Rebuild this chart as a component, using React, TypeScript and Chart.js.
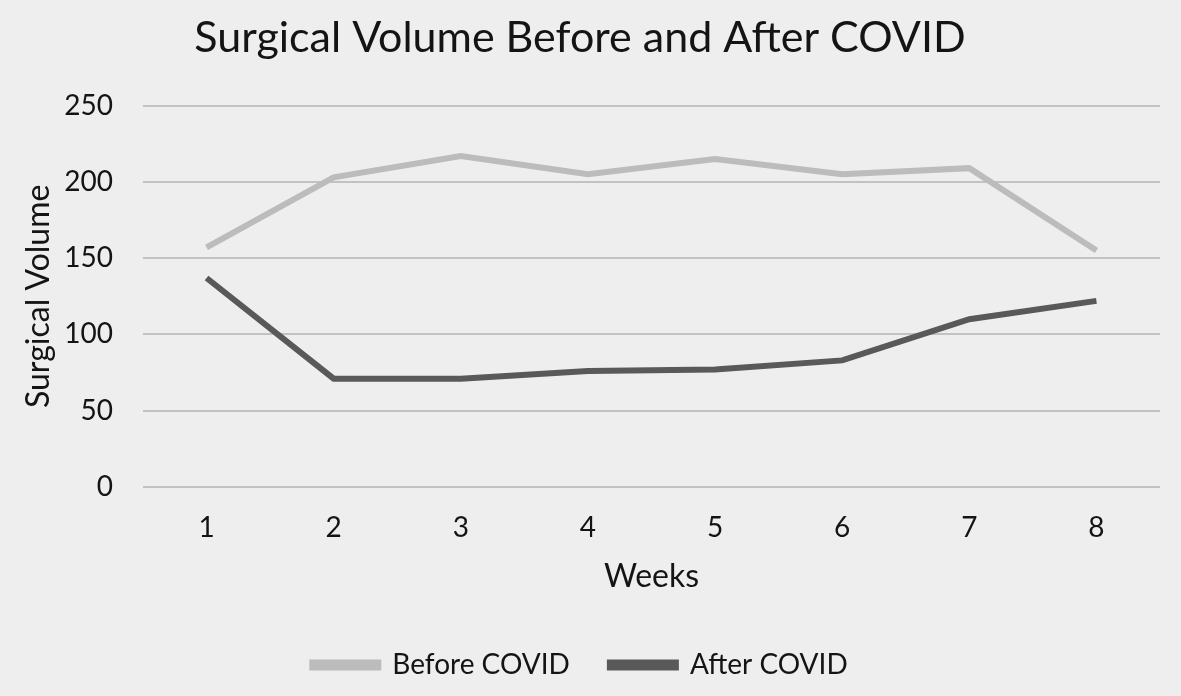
import React, { useEffect, useRef } from "react";
import { Chart, registerables } from "chart.js";

Chart.register(...registerables);

const weeks = ["1", "2", "3", "4", "5", "6", "7", "8"];
const beforeCovid = [157, 203, 217, 205, 215, 205, 209, 155];
const afterCovid = [137, 71, 71, 76, 77, 83, 110, 122];
const yTicks = [0, 50, 100, 150, 200, 250];

const FONT = "Lato, 'Open Sans', sans-serif";
const TEXT = "#141414";

export default function App() {
  const ref = useRef<HTMLCanvasElement | null>(null);

  useEffect(() => {
    document.body.style.margin = "0";
    document.body.style.background = "#eeeeee";
    const ctx = ref.current;
    if (!ctx) return;
    const chart = new Chart(ctx, {
      type: "line",
      data: {
        labels: weeks,
        datasets: [
          {
            label: "Before COVID",
            data: beforeCovid,
            borderColor: "#bcbcbc",
            backgroundColor: "#bcbcbc",
            borderWidth: 6,
            pointRadius: 0,
            tension: 0,
          },
          {
            label: "After COVID",
            data: afterCovid,
            borderColor: "#595959",
            backgroundColor: "#595959",
            borderWidth: 6,
            pointRadius: 0,
            tension: 0,
          },
        ],
      },
      options: {
        animation: false,
        responsive: false,
        layout: { padding: { left: 0, right: 21, top: 0, bottom: 7 } },
        plugins: {
          title: {
            display: true,
            text: "Surgical Volume Before and After COVID",
            color: TEXT,
            font: { family: FONT, size: 43, weight: "normal" },
            padding: { top: 12, bottom: 42 },
          },
          legend: {
            display: true,
            position: "bottom",
            labels: {
              color: TEXT,
              font: { family: FONT, size: 28 },
              boxWidth: 66,
              boxHeight: 5,
              padding: 40,
            },
          },
          tooltip: { enabled: false },
        },
        scales: {
          x: {
            offset: true,
            grid: { display: false, drawTicks: false },
            border: { display: false },
            ticks: { color: TEXT, font: { family: FONT, size: 28 }, padding: 24 },
            title: {
              display: true,
              text: "Weeks",
              color: TEXT,
              font: { family: FONT, size: 32 },
              padding: { top: 14, bottom: 15 },
            },
            afterFit: (scale: any) => {
              scale.height = scale.height - 25;
            },
          },
          y: {
            min: 0,
            max: 250,
            afterBuildTicks: (scale: any) => {
              scale.ticks = yTicks.map((v) => ({ value: v }));
            },
            grid: { color: "#c2c2c2", lineWidth: 2, drawTicks: false },
            border: { display: false },
            ticks: {
              color: TEXT,
              font: { family: FONT, size: 28 },
              padding: 30,
            },
            title: {
              display: true,
              text: "Surgical Volume",
              color: TEXT,
              font: { family: FONT, size: 32 },
              padding: { top: 19, bottom: 0 },
            },
            afterFit: (scale: any) => {
              scale.width = 143;
            },
          },
        },
      },
    });
    return () => chart.destroy();
  }, []);

  return (
    <div style={{ width: 1181, height: 696, background: "#eeeeee" }}>
      <canvas ref={ref} width={1181} height={696} />
    </div>
  );
}
